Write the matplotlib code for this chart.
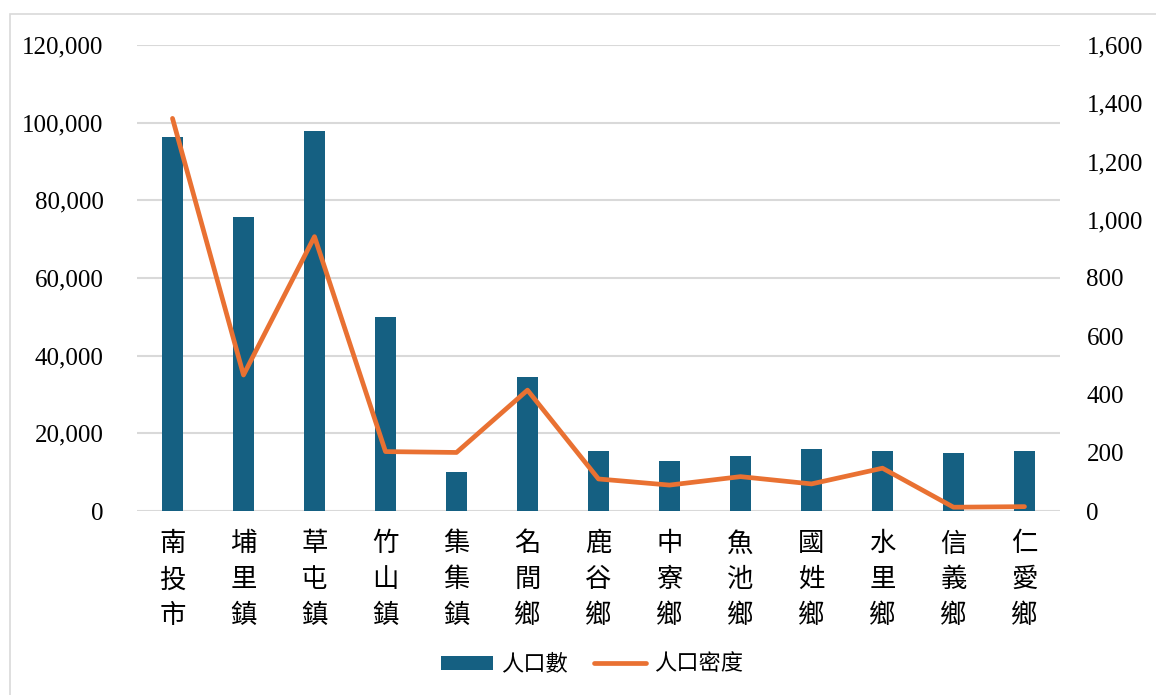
import matplotlib
matplotlib.use("Agg")
import matplotlib.pyplot as plt
from matplotlib.patches import Patch, Rectangle
from matplotlib.lines import Line2D
from matplotlib.ticker import FuncFormatter, MultipleLocator

categories = ["南投市", "埔里鎮", "草屯鎮", "竹山鎮", "集集鎮", "名間鄉", "鹿谷鄉",
              "中寮鄉", "魚池鄉", "國姓鄉", "水里鄉", "信義鄉", "仁愛鄉"]
population = [96200, 75600, 97800, 50000, 9970, 34500, 15450,
              12900, 14200, 16000, 15450, 14900, 15400]
density = [1348, 467, 942, 204, 201, 415, 110, 89, 118, 93, 147, 13, 15]
legend_labels = ["人口數", "人口密度"]

BAR_C = "#156082"
LINE_C = "#E97132"
GRID_C = "#D9D9D9"
SERIF = ["Liberation Serif", "DejaVu Serif"]
CJK = ["Noto Sans CJK TC", "DejaVu Sans"]

W, H = 1156, 695
fig = plt.figure(figsize=(W / 100, H / 100), dpi=100)
fig.patch.set_facecolor("white")

left, right, top, bottom = 137, 1060, 45, 511
ax = fig.add_axes([left / W, 1 - bottom / H, (right - left) / W, (bottom - top) / H])
ax2 = ax.twinx()

x = list(range(len(categories)))
ax.bar(x, population, width=0.305, color=BAR_C, zorder=2)
ax.set_ylim(0, 120000)
ax.yaxis.set_major_locator(MultipleLocator(20000))
ax.yaxis.set_major_formatter(FuncFormatter(lambda v, p: f"{int(v):,}"))
ax.set_xlim(-0.5, len(categories) - 0.5)
ax.grid(axis="y", color=GRID_C, linewidth=1.5, zorder=0)
ax.set_axisbelow(True)

ax2.plot(x, density, color=LINE_C, linewidth=3.4, solid_capstyle="round",
         solid_joinstyle="round", zorder=3)
ax2.set_ylim(0, 1600)
ax2.yaxis.set_major_locator(MultipleLocator(200))
ax2.yaxis.set_major_formatter(FuncFormatter(lambda v, p: f"{int(v):,}"))

for a in (ax, ax2):
    for s in a.spines.values():
        s.set_visible(False)
    a.tick_params(length=0)

ax.tick_params(axis="y", pad=24)
ax2.tick_params(axis="y", pad=19)
for lab in ax.get_yticklabels() + ax2.get_yticklabels():
    lab.set_fontfamily(SERIF)
    lab.set_fontsize(18)
    lab.set_color("#000000")

ax.set_xticks(x)
ax.set_xticklabels(["\n".join(c) for c in categories], fontfamily=CJK,
                   fontsize=19, linespacing=1.42, color="#000000")
ax.tick_params(axis="x", pad=14)

handles = [Patch(facecolor=BAR_C, edgecolor="none"),
           Line2D([0], [0], color=LINE_C, linewidth=3.4, solid_capstyle="round")]
fig.legend(handles, legend_labels, loc="center", bbox_to_anchor=(592 / W, 1 - 664 / H),
           ncol=2, frameon=False, prop={"family": CJK, "size": 16},
           handlelength=2.35, handleheight=0.6, handletextpad=0.35, columnspacing=1.2)

fig.add_artist(Rectangle((10 / W, -0.1), 1.2, 1 - 14 / H + 0.1, transform=fig.transFigure,
                         facecolor="none", edgecolor=GRID_C, linewidth=1.2))

fig.savefig("out.png", dpi=100)
